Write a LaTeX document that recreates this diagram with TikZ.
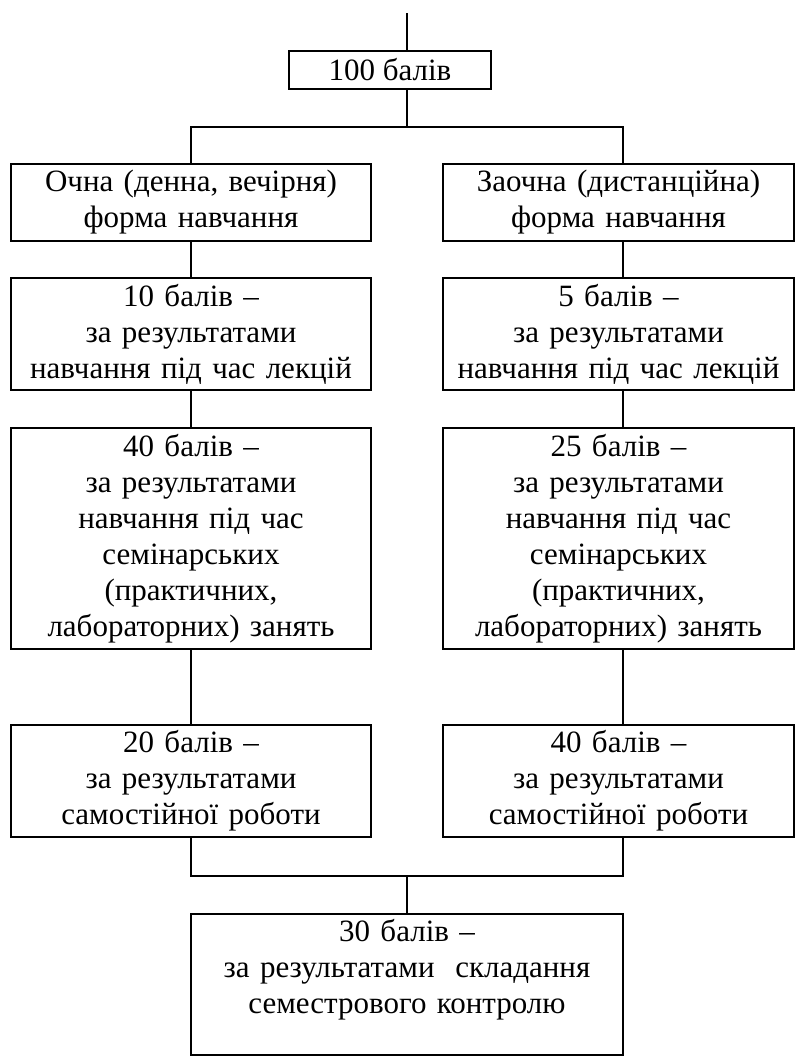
\documentclass[tikz,border=0pt]{standalone}
\usepackage{fontspec}
\setmainfont{Liberation Serif}
\tikzset{
  blk/.style={draw, line width=0.8pt, align=center, inner sep=1.5pt,
    font=\fontsize{15.5pt}{18pt}\selectfont},
  colbox/.style={blk, text width=177pt},
  rbox/.style={blk, text width=172.5pt},
}

\begin{document}
\begin{tikzpicture}[x=0.5pt, y=-0.5pt, line width=0.8pt]
  \clip (0,0) rectangle (795,1057);
  % top
  \coordinate (in) at (407,13);
  \coordinate (fork) at (407,127);
  \coordinate (join) at (407,876);
  \coordinate (rcol) at (623,0);
  \node[blk, minimum width=101pt, minimum height=19pt] (total) at (390,70) {100 балів};
  % left column
  \node[colbox, minimum height=38.5pt] (l1) at (191,202.5) {Очна (денна, вечірня)\\форма навчання};
  \node[colbox, minimum height=56pt] (l2) at (191,334) {10 балів –\\за результатами\\навчання під час лекцій};
  \node[colbox, minimum height=110.5pt] (l3) at (191,538.5) {40 балів –\\за результатами\\навчання під час\\семінарських\\(практичних,\\лабораторних) занять};
  \node[colbox, minimum height=56pt] (l4) at (191,781) {20 балів –\\за результатами\\самостійної роботи};
  % right column
  \node[rbox, minimum height=38.5pt] (r1) at (618.5,202.5) {Заочна (дистанційна)\\форма навчання};
  \node[rbox, minimum height=56pt] (r2) at (618.5,334) {5 балів –\\за результатами\\навчання під час лекцій};
  \node[rbox, minimum height=110.5pt] (r3) at (618.5,538.5) {25 балів –\\за результатами\\навчання під час\\семінарських\\(практичних,\\лабораторних) занять};
  \node[rbox, minimum height=56pt] (r4) at (618.5,781) {40 балів –\\за результатами\\самостійної роботи};
  % bottom
  \node[blk, text width=213pt, minimum height=70.5pt] (exam) at (407,984.5) {30 балів –\\за результатами~~складання\\семестрового контролю\\\mbox{}};
  % lines
  \draw (in) -- (in |- total.north);
  \draw (fork |- total.south) -- (fork);
  \draw (l1.north) |- (fork) -| (rcol |- r1.north);
  \draw (l1) -- (l2) -- (l3) -- (l4);
  \draw (rcol |- r1.south) -- (rcol |- r2.north);
  \draw (rcol |- r2.south) -- (rcol |- r3.north);
  \draw (rcol |- r3.south) -- (rcol |- r4.north);
  \draw (l4.south) |- (join) -| (rcol |- r4.south);
  \draw (join) -- (exam.north);
\end{tikzpicture}
\end{document}
